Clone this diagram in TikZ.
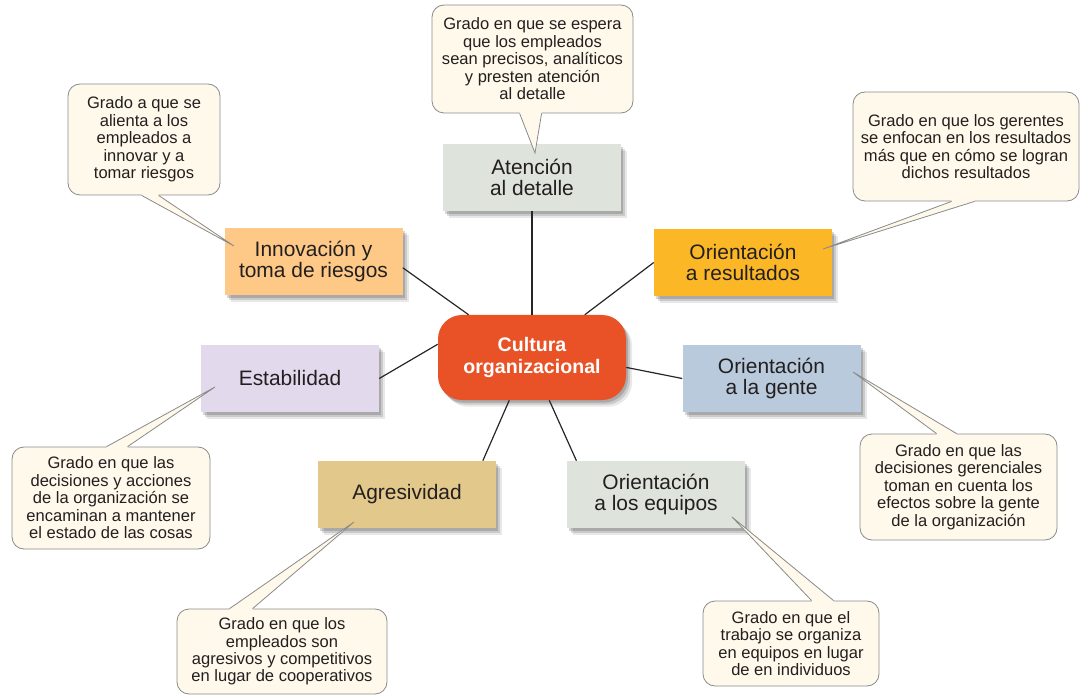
\documentclass[tikz,border=0pt]{standalone}
\usepackage{fontspec}
\setmainfont{Liberation Sans}
\usetikzlibrary{shadows,calc}
\definecolor{txt}{HTML}{231F20}
\definecolor{sage}{HTML}{DEE4DB}
\definecolor{peach}{HTML}{FEC986}
\definecolor{amber}{HTML}{FBB726}
\definecolor{lav}{HTML}{E3D9EC}
\definecolor{steel}{HTML}{B9CADC}
\definecolor{sand}{HTML}{E2C88B}
\definecolor{core}{HTML}{E95126}
\definecolor{cream}{HTML}{FEF9EA}
\definecolor{cborder}{HTML}{8A8A8A}
\tikzset{
  softshadow/.style={
    drop shadow={shadow xshift=1.5pt,shadow yshift=-2pt,fill=black,opacity=0.16},
    drop shadow={shadow xshift=3pt,shadow yshift=-3.5pt,fill=black,opacity=0.13},
    drop shadow={shadow xshift=4.5pt,shadow yshift=-5pt,fill=black,opacity=0.09}},
  factor/.style={rectangle, minimum width=133.5pt, minimum height=50.25pt, inner sep=0pt,
    align=center, text=txt, font=\fontsize{15.7}{16}\selectfont, softshadow},
  corebox/.style={rectangle, rounded corners=18pt, minimum width=141pt, minimum height=63.75pt,
    inner sep=0pt, align=center, fill=core, text=white,
    font=\fontsize{14.7}{16.4}\selectfont\bfseries, softshadow},
  callout/.style={rectangle, rounded corners=9pt, fill=cream, draw=cborder, line width=0.6pt,
    inner sep=0pt, align=center, text=txt, font=\fontsize{12.4}{13.1}\selectfont},
  link/.style={draw=black!85, line width=0.9pt},
  tail/.style={draw=cborder, line width=0.6pt, line join=miter},
}
\newcommand{\calltail}[4]{% base1, base2, tip, inward shift (px)
  \fill[cream] ($(#1)+(0,#4)$) -- (#1) -- (#3) -- (#2) -- ($(#2)+(0,#4)$) -- cycle;
  \draw[tail] (#1) -- (#3) -- (#2);
}
\begin{document}
\begin{tikzpicture}[x=0.75pt,y=-0.75pt]
\useasboundingbox (0,0) rectangle (1082,695);

% factor boxes
\node[factor, fill=sage]  (aten)   at (532,177.5) {Atención\\al detalle};
\node[factor, fill=peach] (innov)  at (313.5,261.5) {Innovación y\\toma de riesgos};
\node[factor, fill=amber] (result) at (743,262.5) {Orientación\\a resultados};
\node[factor, fill=lav]   (estab)  at (290,378.5) {Estabilidad};
\node[factor, fill=steel] (gente)  at (771.5,378.5) {Orientación\\a la gente};
\node[factor, fill=sand]  (agres)  at (407,494.5) {Agresividad};
\node[factor, fill=sage]  (equip)  at (656,494.5) {Orientación\\a los equipos};
\node[corebox] (cult) at (532,357.5) {Cultura\\organizacional};

% connectors
\draw[link] (aten.south) -- (cult.north);
\draw[link] (innov.-4) -- (cult.146);
\draw[link] (result.west) -- (cult.39);
\draw[link] (estab.east) -- (cult.172);
\draw[link] (gente.west) -- (cult.-6);
\draw[link] (agres.24) -- (cult.-118);
\draw[link] (equip.157) -- (cult.-68);

% callouts
\node[callout, minimum width=150.75pt, minimum height=81pt] (c1) at (532.5,59)
  {Grado en que se espera\\que los empleados\\sean precisos, analíticos\\y presten atención\\al detalle};
\node[callout, minimum width=114pt, minimum height=83.25pt] (c2) at (144,139.5)
  {Grado a que se\\alienta a los\\empleados a\\innovar y a\\tomar riesgos};
\node[callout, minimum width=169.5pt, minimum height=81.75pt] (c3) at (966,146.5)
  {Grado en que los gerentes\\se enfocan en los resultados\\más que en cómo se logran\\dichos resultados};
\node[callout, minimum width=148.5pt, minimum height=76.5pt] (c4) at (111,498)
  {Grado en que las\\decisiones y acciones\\de la organización se\\encaminan a mantener\\el estado de las cosas};
\node[callout, minimum width=147.75pt, minimum height=79.5pt] (c5) at (958.5,487)
  {Grado en que las\\decisiones gerenciales\\toman en cuenta los\\efectos sobre la gente\\de la organización};
\node[callout, minimum width=157.5pt, minimum height=63.75pt] (c6) at (282,651.5)
  {Grado en que los\\empleados son\\agresivos y competitivos\\en lugar de cooperativos};
\node[callout, minimum width=132pt, minimum height=63.75pt] (c7) at (791,643.5)
  {Grado en que el\\trabajo se organiza\\en equipos en lugar\\de en individuos};

% callout tails
\coordinate (t1a) at ($(c1.south west)+(88,0)$);
\coordinate (t1b) at ($(c1.south west)+(110,0)$);
\coordinate (t1) at ($(aten.center)+(3,-24.5)$);
\calltail{t1a}{t1b}{t1}{-1.5}

\coordinate (t2a) at ($(c2.south west)+(74,0)$);
\coordinate (t2b) at ($(c2.south west)+(91,0)$);
\coordinate (t2) at ($(innov.center)+(-79.5,-15.5)$);
\calltail{t2a}{t2b}{t2}{-1.5}

\coordinate (t3a) at ($(c3.south west)+(99,0)$);
\coordinate (t3b) at ($(c3.south west)+(122,0)$);
\coordinate (t3) at ($(result.center)+(80,-13.5)$);
\calltail{t3a}{t3b}{t3}{-1.5}

\coordinate (t4a) at ($(c4.north west)+(95,0)$);
\coordinate (t4b) at ($(c4.north west)+(116,0)$);
\coordinate (t4) at ($(estab.center)+(-75,8.5)$);
\calltail{t4a}{t4b}{t4}{1.5}

\coordinate (t5a) at ($(c5.north west)+(77,0)$);
\coordinate (t5b) at ($(c5.north west)+(97,0)$);
\coordinate (t5) at ($(gente.center)+(81.5,-6.5)$);
\calltail{t5a}{t5b}{t5}{1.5}

\coordinate (t6a) at ($(c6.north west)+(53,0)$);
\coordinate (t6b) at ($(c6.north west)+(76,0)$);
\coordinate (t6) at ($(agres.center)+(-53,27.5)$);
\calltail{t6a}{t6b}{t6}{1.5}

\coordinate (t7a) at ($(c7.north west)+(109,0)$);
\coordinate (t7b) at ($(c7.north west)+(131,0)$);
\coordinate (t7) at ($(equip.center)+(76,22.5)$);
\calltail{t7a}{t7b}{t7}{1.5}
\end{tikzpicture}
\end{document}
